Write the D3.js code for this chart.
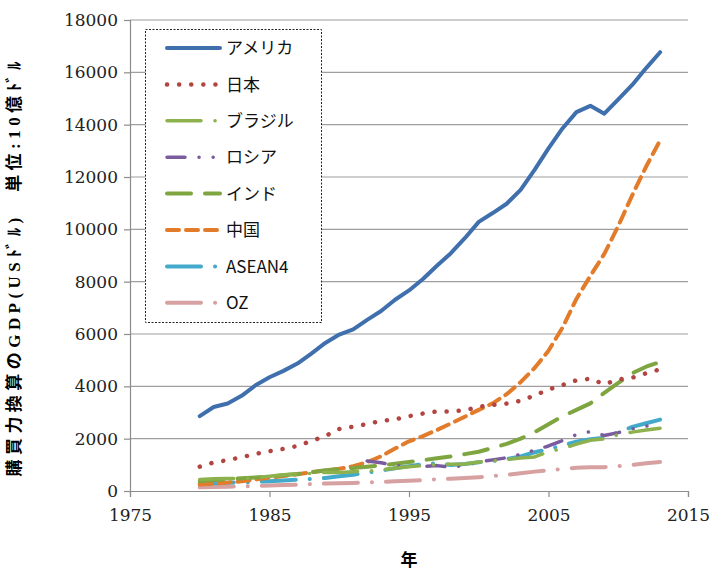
<!DOCTYPE html>
<html><head><meta charset="utf-8">
<script src="https://cdn.jsdelivr.net/npm/d3@7"></script>
<style>
html,body{margin:0;padding:0;background:#fff;}
svg{display:block;}
</style>
</head><body>
<svg id="chart" width="710" height="574"></svg>
<script>
const years = [1980,1981,1982,1983,1984,1985,1986,1987,1988,1989,1990,1991,1992,1993,1994,1995,1996,1997,1998,1999,2000,2001,2002,2003,2004,2005,2006,2007,2008,2009,2010,2011,2012,2013];
const america = [2862,3211,3345,3638,4041,4347,4590,4870,5253,5658,5980,6174,6539,6879,7309,7664,8100,8609,9089,9661,10285,10622,10978,11511,12275,13094,13856,14478,14719,14419,14964,15518,16163,16768];
const japan = [930,1090,1180,1290,1420,1520,1610,1720,1910,2100,2370,2460,2560,2680,2740,2860,2960,3040,3040,3080,3220,3290,3340,3450,3650,3880,4050,4230,4290,4080,4260,4330,4500,4650];
const brazil = [440,470,480,470,510,560,620,650,670,710,710,740,760,810,870,930,970,1010,1020,1030,1110,1150,1200,1260,1300,1500,1620,1790,1940,1990,2150,2250,2330,2400];
const russia = [null,null,null,null,null,null,null,null,null,null,null,null,1150,1080,970,950,940,970,910,980,1110,1190,1270,1400,1560,1720,1930,2150,2270,2120,2230,2370,2480,2550];
const india = [380,420,450,490,520,560,600,650,720,790,840,880,930,980,1040,1110,1180,1250,1320,1410,1500,1650,1800,2000,2250,2550,2850,3100,3350,3750,4130,4500,4750,4930];
const china = [250,280,320,370,440,510,570,640,720,780,850,950,1100,1330,1620,1900,2100,2330,2580,2840,3100,3350,3700,4160,4700,5360,6240,7340,8220,9060,10130,11300,12400,13400];
const asean4 = [280,300,320,330,350,370,400,430,460,500,560,620,700,780,870,950,1030,1060,990,1030,1100,1150,1220,1320,1480,1600,1740,1880,1980,2030,2250,2450,2590,2730];
const oz = [140,155,165,175,190,210,225,245,265,285,295,310,330,350,370,395,420,450,470,500,530,570,620,680,740,790,840,890,910,910,950,1000,1060,1110];

const seriesNames = ["アメリカ","日本","ブラジル","ロシア","インド","中国","ASEAN4","OZ"];
const seriesValues = [america, japan, brazil, russia, india, china, asean4, oz];
const seriesColors = ["#3F6FAC","#B24542","#8DB24D","#7A5C9E","#7EA53F","#E27B2A","#44AACB","#D6A1A0"];
const seriesDash = ["", "0.1 12", "34 14 0.1 14", "18 14 0.1 14 0.1 14", "24 14", "12 7", "34 14 0.1 14", "34 14 0.1 14"];
const seriesWidth = [4, 4.5, 3.5, 3.5, 4, 4, 4, 4];

const yTicks = [0,2000,4000,6000,8000,10000,12000,14000,16000,18000];
const xTicks = [1975,1985,1995,2005,2015];
const yTitle = "購買力換算のGDP(USﾄﾞﾙ)　単位:10億ﾄﾞﾙ";
const xTitle = "年";

const svg = d3.select("#chart");
svg.append("rect").attr("width",710).attr("height",574).attr("fill","#fff");

const margin = {left:130, right:22, top:20, bottom:83};
const W = 710, H = 574;
const x = d3.scaleLinear().domain([1975,2015]).range([margin.left, W - margin.right]);
const y = d3.scaleLinear().domain([0,18000]).range([H - margin.bottom, margin.top]);

// gridlines
svg.append("g").selectAll("line").data(yTicks.filter(d=>d>0)).join("line")
  .attr("x1", x(1975)).attr("x2", x(2015))
  .attr("y1", d=>y(d)).attr("y2", d=>y(d))
  .attr("stroke","#9E9E9E").attr("stroke-width",1.2);

// y axis
const yAxis = svg.append("g").attr("transform",`translate(${x(1975)},0)`)
  .call(d3.axisLeft(y).tickValues(yTicks).tickSize(6).tickPadding(6).tickFormat(d3.format("d")));
yAxis.select(".domain").attr("stroke","#8C8C8C").attr("stroke-width",1.2);
yAxis.selectAll(".tick line").attr("stroke","#8C8C8C").attr("stroke-width",1.2);
yAxis.selectAll("text").attr("font-family","'DejaVu Serif', serif").attr("font-size",17).attr("fill","#222");

// x axis
const xAxis = svg.append("g").attr("transform",`translate(0,${y(0)})`)
  .call(d3.axisBottom(x).tickValues(xTicks).tickSize(6).tickPadding(12).tickFormat(d3.format("d")));
xAxis.select(".domain").attr("stroke","#8C8C8C").attr("stroke-width",1.2);
xAxis.selectAll(".tick line").attr("stroke","#8C8C8C").attr("stroke-width",1.2);
xAxis.selectAll("text").attr("font-family","'DejaVu Serif', serif").attr("font-size",17).attr("fill","#222");

// series lines
const line = d3.line().defined(d=>d[1]!==null).x(d=>x(d[0])).y(d=>y(d[1]));
const order = [7,6,5,4,3,2,1,0];
order.forEach(i=>{
  const pts = years.map((yr,k)=>[yr, seriesValues[i][k]]);
  svg.append("path").datum(pts)
    .attr("d", line)
    .attr("fill","none")
    .attr("stroke", seriesColors[i])
    .attr("stroke-width", seriesWidth[i])
    .attr("stroke-dasharray", seriesDash[i] || null)
    .attr("stroke-linecap","round")
    .attr("stroke-linejoin","round");
});

// legend
const lg = svg.append("g");
lg.append("rect").attr("x",145.5).attr("y",29.5).attr("width",176).attr("height",293)
  .attr("fill","#fff").attr("stroke","#222").attr("stroke-width",1).attr("stroke-dasharray","2 1.5");
seriesNames.forEach((name,i)=>{
  const cy = 48 + i*36.4;
  lg.append("line").attr("x1",167).attr("x2",220).attr("y1",cy).attr("y2",cy)
    .attr("stroke",seriesColors[i]).attr("stroke-width",seriesWidth[i])
    .attr("stroke-dasharray",seriesDash[i] || null)
    .attr("stroke-linecap","round");
  lg.append("text").attr("x",226).attr("y",cy).attr("dy","0.36em")
    .attr("font-family","'Noto Sans CJK JP', 'Noto Sans', sans-serif").attr("font-size",17)
    .attr("fill","#111").text(name);
});

// axis titles
svg.append("text").attr("transform",`translate(14,269) rotate(-90)`)
  .attr("text-anchor","middle").attr("dominant-baseline","central")
  .attr("font-family","'Liberation Serif', 'Noto Sans CJK JP', serif")
  .attr("font-weight","bold").attr("font-size",17).attr("fill","#000")
  .attr("textLength",415).attr("lengthAdjust","spacing").text(yTitle);
svg.append("text").attr("x",(x(1975)+x(2015))/2).attr("y",566).attr("text-anchor","middle")
  .attr("font-family","'Noto Sans CJK JP', sans-serif").attr("font-weight","bold").attr("font-size",17)
  .attr("fill","#000").text(xTitle);
</script>
</body></html>
